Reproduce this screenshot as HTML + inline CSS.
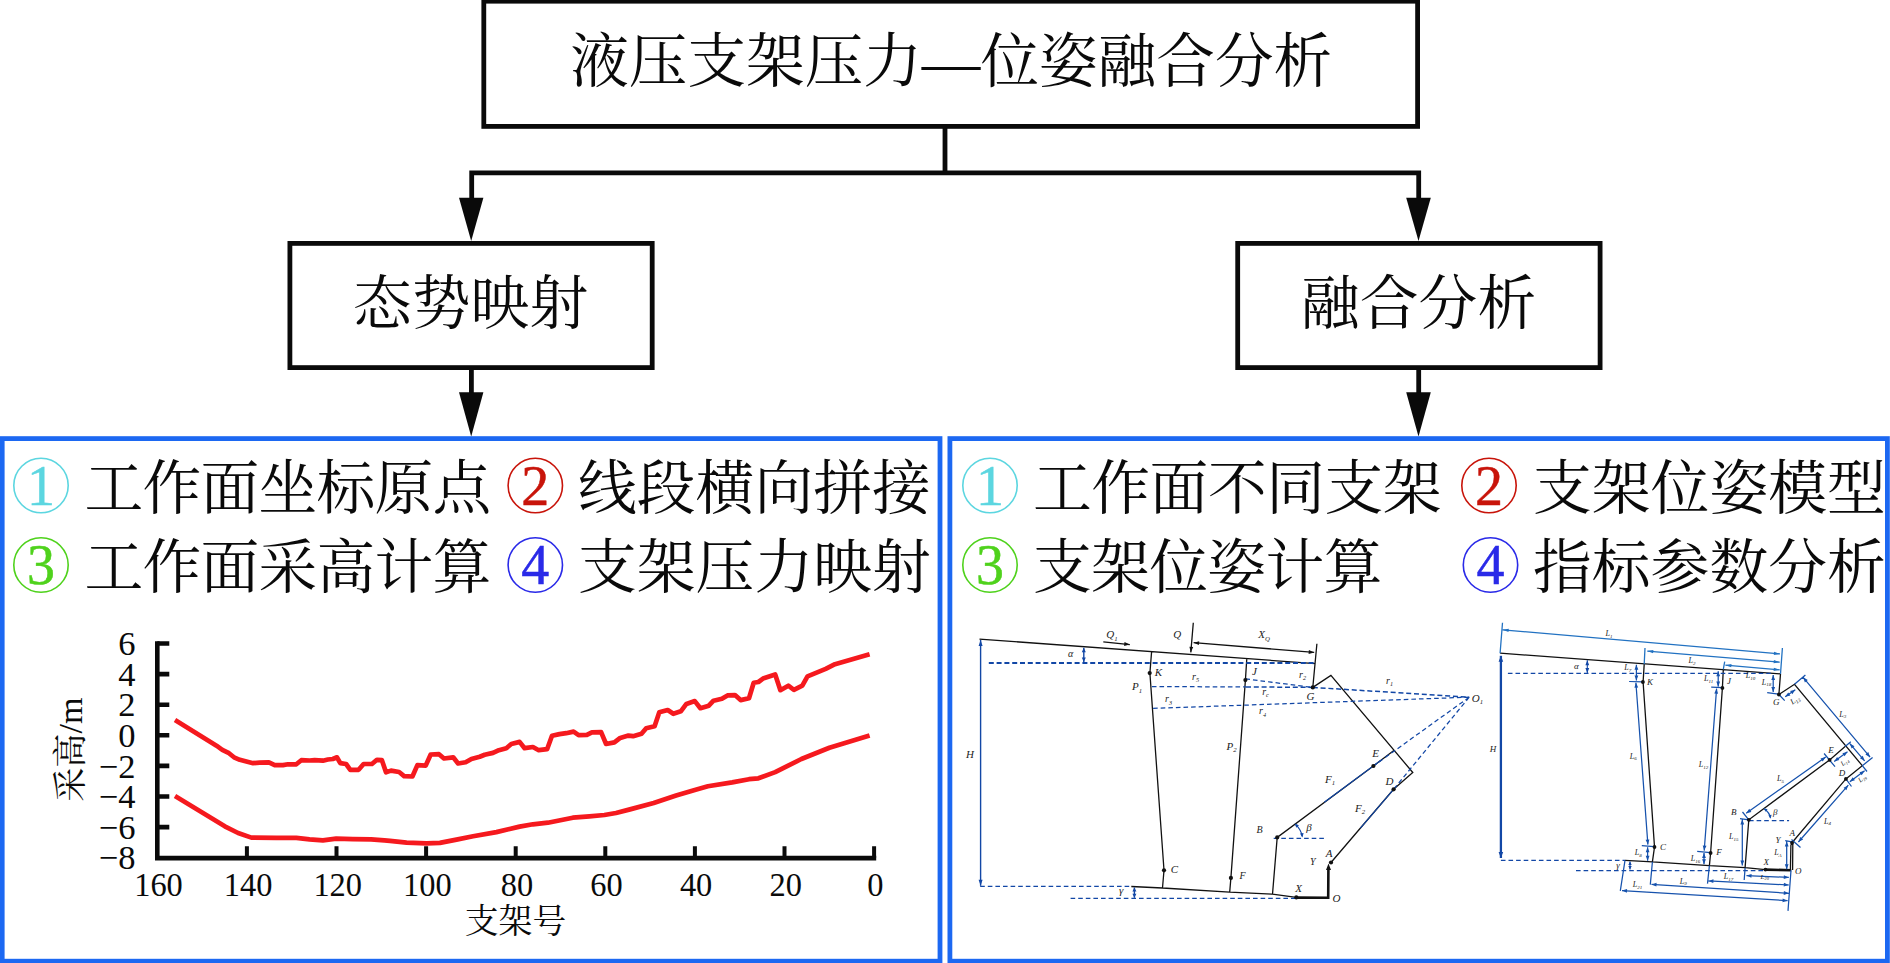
<!DOCTYPE html>
<html lang="zh-CN">
<head>
<meta charset="utf-8">
<title>液压支架压力—位姿融合分析</title>
<style>
html,body{margin:0;padding:0;background:#fff;}
body{width:1890px;height:963px;overflow:hidden;position:relative;font-family:"Liberation Serif","Noto Serif CJK SC",serif;}
svg{position:absolute;left:0;top:0;display:block;}
.cn{font-family:"Liberation Serif","Noto Serif CJK SC",serif;font-size:58.8px;fill:#0a0a0a;font-weight:400;}
.num{font-family:"Liberation Serif",serif;font-size:56px;text-anchor:middle;stroke-width:0.5px;}
.ax{font-family:"Liberation Serif","Noto Serif CJK SC",serif;font-size:34.5px;fill:#0a0a0a;}
</style>
</head>
<body>
<svg width="1890" height="963" viewBox="0 0 1890 963">
<!-- FLOW BOXES -->
<g id="flow" fill="none" stroke="#0a0a0a" stroke-width="4.8">
<rect x="483.8" y="1.2" width="933.8" height="125.2"/>
<rect x="289.9" y="243.4" width="362.3" height="124.2"/>
<rect x="1237.7" y="243.4" width="362.4" height="124.2"/>
<path d="M945 128v44.8M471.7 200V172.8H1418.7V200M471.4 369v26M1418.7 369v26"/>
</g>
<g id="heads" fill="#0a0a0a">
<path d="M459 197.8h24.4L471.2 241z"/>
<path d="M1406.2 197.8h24.6L1418.5 241z"/>
<path d="M459 392.2h24.4L471.2 436.5z"/>
<path d="M1406.2 392.2h24.6L1418.5 436.5z"/>
</g>
<g id="flowtext" class="cn">
<text x="570.2" y="81.5" font-size="58.62">液压支架压力—位姿融合分析</text>
<text x="353" y="324">态势映射</text>
<text x="1301" y="324">融合分析</text>
</g>
<!-- PANELS -->
<g id="panels" fill="none" stroke="#1c68f2" stroke-width="4.8">
<rect x="2.2" y="438.6" width="937.8" height="522.6"/>
<rect x="949.9" y="438.6" width="937.5" height="522.6"/>
</g>
<g id="lefttext">
<g fill="none" stroke-width="1.6">
<circle cx="41" cy="485.5" r="27.2" stroke="#5cd6e0"/>
<circle cx="535.3" cy="485.5" r="27.2" stroke="#c8140a"/>
<circle cx="41" cy="565" r="27.2" stroke="#4fd21c"/>
<circle cx="535.3" cy="565" r="27.2" stroke="#2a2ae8"/>
</g>
<text class="num" x="41" y="504.5" fill="#5cd6e0" stroke="#5cd6e0">1</text>
<text class="num" x="535.3" y="504.5" fill="#c8140a" stroke="#c8140a">2</text>
<text class="num" x="41" y="584" fill="#4fd21c" stroke="#4fd21c">3</text>
<text class="num" x="535.3" y="584" fill="#2a2ae8" stroke="#2a2ae8">4</text>
<text class="cn" x="84.5" y="509" letter-spacing="-0.8">工作面坐标原点</text>
<text class="cn" x="578" y="509">线段横向拼接</text>
<text class="cn" x="84.5" y="588" letter-spacing="-0.8">工作面采高计算</text>
<text class="cn" x="578" y="588">支架压力映射</text>
</g>
<g id="righttext">
<g fill="none" stroke-width="1.6">
<circle cx="990" cy="485.5" r="27.2" stroke="#5cd6e0"/>
<circle cx="1489" cy="485.5" r="27.2" stroke="#c8140a"/>
<circle cx="990" cy="565" r="27.2" stroke="#4fd21c"/>
<circle cx="1490.5" cy="565" r="27.2" stroke="#2a2ae8"/>
</g>
<text class="num" x="990" y="504.5" fill="#5cd6e0" stroke="#5cd6e0">1</text>
<text class="num" x="1489" y="504.5" fill="#c8140a" stroke="#c8140a">2</text>
<text class="num" x="990" y="584" fill="#4fd21c" stroke="#4fd21c">3</text>
<text class="num" x="1490.5" y="584" fill="#2a2ae8" stroke="#2a2ae8">4</text>
<text class="cn" x="1033" y="509" letter-spacing="-0.5">工作面不同支架</text>
<text class="cn" x="1533" y="509">支架位姿模型</text>
<text class="cn" x="1033" y="588" letter-spacing="-0.7">支架位姿计算</text>
<text class="cn" x="1533" y="588">指标参数分析</text>
</g>
<g id="chart">
<g stroke="#0a0a0a" stroke-width="4.6" fill="none">
<path d="M157.3 641.2V858.1H876.2"/>
<path d="M157.3 643.5H169.3M157.3 674.1H169.3M157.3 704.7H169.3M157.3 735.3H169.3M157.3 765.9H169.3M157.3 796.5H169.3M157.3 827.1H169.3"/>
<path stroke-width="4" d="M246.9 858.1V846.2M336.5 858.1V846.2M426.1 858.1V846.2M515.7 858.1V846.2M605.3 858.1V846.2M694.9 858.1V846.2M784.5 858.1V846.2M874.1 858.1V846.2"/>
</g>
<g class="ax" text-anchor="end">
<text x="135.5" y="655.2">6</text>
<text x="135.5" y="685.8">4</text>
<text x="135.5" y="716.4">2</text>
<text x="135.5" y="747.0">0</text>
<text x="135.5" y="777.6">−2</text>
<text x="135.5" y="808.2">−4</text>
<text x="135.5" y="838.8">−6</text>
<text x="135.5" y="869.4">−8</text>
</g>
<g class="ax" text-anchor="middle">
<text transform="translate(158.5 896.2) scale(0.94 1)">160</text>
<text transform="translate(248.1 896.2) scale(0.94 1)">140</text>
<text transform="translate(337.7 896.2) scale(0.94 1)">120</text>
<text transform="translate(427.3 896.2) scale(0.94 1)">100</text>
<text transform="translate(516.9 896.2) scale(0.94 1)">80</text>
<text transform="translate(606.5 896.2) scale(0.94 1)">60</text>
<text transform="translate(696.1 896.2) scale(0.94 1)">40</text>
<text transform="translate(785.7 896.2) scale(0.94 1)">20</text>
<text transform="translate(875.3 896.2) scale(0.94 1)">0</text>
<text x="515.5" y="932.8" font-size="33.8">支架号</text>
<text transform="translate(82 749.6) rotate(-90)" font-size="34.2">采高/m</text>
</g>
<g fill="none" stroke="#f5191e" stroke-width="4.7" stroke-linejoin="round">
<path d="M175.0 719.9 L216.5 745.7 L222.3 749.9 L229.0 753.2 L234.0 757.3 L239.8 759.8 L246.4 761.5 L253.1 763.2 L259.7 762.7 L268.9 762.3 L274.7 765.1 L283.0 765.1 L288.0 764.3 L296.3 764.3 L301.3 760.2 L309.6 760.5 L314.6 760.2 L322.9 760.7 L327.9 759.5 L332.8 759.0 L337.0 757.3 L340.3 763.2 L346.1 764.0 L350.3 769.8 L358.6 769.8 L363.6 764.0 L371.9 764.0 L376.9 759.8 L381.9 760.2 L386.0 772.3 L391.0 770.6 L399.1 772.0 L404.1 776.1 L412.4 776.5 L417.4 765.1 L425.7 765.6 L430.7 754.5 L439.0 754.2 L444.0 758.5 L453.2 757.3 L458.1 763.5 L465.6 762.3 L471.4 759.0 L479.7 756.8 L484.7 754.8 L493.0 752.9 L498.9 750.2 L506.3 748.2 L511.3 744.0 L519.6 741.9 L524.6 748.2 L532.9 747.0 L538.7 750.2 L547.1 749.2 L552.0 735.7 L559.5 734.1 L566.2 733.2 L573.6 731.6 L578.6 735.2 L586.9 734.9 L591.9 732.4 L601.1 732.1 L606.1 744.0 L614.4 742.4 L620.2 737.9 L628.4 735.6 L633.1 736.2 L641.5 733.8 L646.2 728.2 L654.6 726.3 L659.3 712.3 L667.7 710.0 L673.3 713.8 L680.8 711.3 L686.4 703.9 L694.8 701.1 L700.4 708.2 L708.8 705.7 L713.5 700.7 L721.9 698.8 L727.5 695.4 L735.0 695.1 L740.6 700.1 L749.0 698.2 L753.7 682.7 L758.4 682.0 L763.0 678.6 L775.2 674.5 L780.4 690.2 L788.3 685.7 L793.9 689.8 L802.3 685.7 L807.5 676.4 L825.7 668.9 L835.0 664.2 L869.6 654.3"/>
<path d="M175.0 796.1 L224.8 826.3 L238.1 833.0 L251.4 837.6 L276.3 837.9 L296.3 837.9 L309.6 839.3 L322.9 840.4 L336.2 838.6 L352.8 839.1 L371.1 839.3 L384.4 840.4 L390.0 840.9 L406.6 842.6 L426.6 843.3 L439.9 842.9 L456.5 839.6 L473.1 836.3 L496.4 832.1 L519.6 826.6 L532.9 824.3 L547.9 822.7 L572.8 817.7 L589.4 816.3 L604.4 815.0 L616.0 813.0 L630.0 809.4 L653.7 803.0 L676.1 795.5 L694.8 789.9 L707.9 786.3 L732.2 782.4 L749.0 779.2 L758.4 778.3 L775.2 772.1 L801.4 759.0 L829.4 747.8 L869.6 735.6"/>
</g></g>
<!--D1S--><g id="diag1">
<path fill="none" stroke="#111" stroke-width="1.3" d="M979.5 639.1L1315.3 663.6M1151.6 651.6L1149.9 673.1L1164 870.3L1162.5 888M1246.8 658.6L1245.4 680.1L1230.9 877.9L1229.7 892.1M1316.9 643.8L1312.8 687.4L1330.9 675.4L1412.8 772.5L1393.6 789.3L1331 862.5M1272.5 894.2L1277.2 837.4L1373.4 766L1393.5 750.7M1131.3 886.5L1162.5 888L1229.7 892.1L1272.4 894.2L1296.3 897.4M1103.3 641.8L1129.8 644.6M1193.3 622.8L1190.8 652.4M1193.6 642.7L1314.2 652.4"/>
<path fill="none" stroke="#111" stroke-width="2.6" d="M1296.3 897.6L1328.2 897.8L1328.4 869"/>
<path fill="none" stroke="#1247a6" stroke-width="1.4" d="M980.6 885.8L980.6 639.9M1083.8 647.7L1083.8 661.9M1134.4 887.4L1134.4 897.8"/>
<path fill="none" stroke="#1247a6" stroke-width="2" stroke-dasharray="5 2.8" d="M988.8 663L1315 663"/>
<path fill="none" stroke="#1247a6" stroke-width="1.25" stroke-dasharray="4.6 3" d="M980.2 886.3L1131.3 886.5M1070.6 898.3L1296.3 898.3M1151.9 686.6L1246 686.9M1245.4 678.9L1312.8 687.4M1153.1 708.4L1469.2 697.2M1469.2 697.2L1373.4 766M1469.2 697.2L1393.6 789.3M1273.7 838.3L1324.3 838.3"/>
<path fill="none" stroke="#1247a6" stroke-width="1.5" stroke-dasharray="5 2.8" d="M1246 686.9L1312.8 687.4M1312.8 687.4L1469.2 697.2"/>
<path fill="none" stroke="#1247a6" stroke-width="1.1" d="M1324.3 802.3L1381 760.2M1360.4 828.1L1393.6 789.3M1295.2 824.2Q1301 829.5 1302.2 836.3"/>
<path fill="#111" d="M1328.5 863.5L1331 870L1326 870ZM1129.8 644.6L1124.1 645.9L1124.5 642.1ZM1190.8 652.4L1189.4 646.8L1193.2 647.1ZM1314.2 652.4L1308.6 653.9L1308.9 650.1ZM1193.6 642.7L1199.2 641.2L1198.9 645Z"/>
<path fill="#1247a6" d="M980.6 639.9L982.6 645.9L978.6 645.9ZM980.6 885.8L978.6 879.8L982.6 879.8ZM1083.8 661.9L1081.8 657.4L1085.8 657.4ZM1083.8 647.7L1085.8 652.2L1081.8 652.2ZM1134.4 897.8L1132.4 893.8L1136.4 893.8ZM1134.4 887.4L1136.4 891.4L1132.4 891.4ZM1294.6 823.6L1298.9 825.2L1296.4 827.8ZM1302.4 837.4L1300 833.5L1303.6 833Z"/>
<g fill="#111"><circle cx="1149.7" cy="673.1" r="2.1"/><circle cx="1245.4" cy="680.1" r="2.1"/><circle cx="1312.8" cy="687.4" r="2.1"/><circle cx="1164" cy="870.3" r="2.1"/><circle cx="1230.9" cy="877.9" r="2.1"/><circle cx="1277.2" cy="837.4" r="2.1"/><circle cx="1373.4" cy="766" r="2.1"/><circle cx="1393.6" cy="789.3" r="2.1"/><circle cx="1331" cy="862.5" r="2.1"/><circle cx="1296.3" cy="897.4" r="2.1"/></g>
<g font-family="'Liberation Serif',serif" font-style="italic" fill="#222" text-anchor="middle">
<text x="1070.6" y="657.3" font-size="10">α</text>
<text x="1112" y="638.1" font-size="11">Q<tspan font-size="6.8" dy="2.4">1</tspan></text>
<text x="1177.3" y="638.1" font-size="11">Q</text>
<text x="1264" y="638.1" font-size="11">X<tspan font-size="6.8" dy="2.4">Q</tspan></text>
<text x="1158.5" y="676.4" font-size="11">K</text>
<text x="1137" y="690.1" font-size="11">P<tspan font-size="6.8" dy="2.4">1</tspan></text>
<text x="1195.5" y="679.8" font-size="10">r<tspan font-size="6.2" dy="2.2">5</tspan></text>
<text x="1168.5" y="702.3" font-size="10">r<tspan font-size="6.2" dy="2.2">3</tspan></text>
<text x="1254.5" y="675.4" font-size="11">J</text>
<text x="1302.5" y="677.8" font-size="10">r<tspan font-size="6.2" dy="2.2">2</tspan></text>
<text x="1265.5" y="694.8" font-size="10">r<tspan font-size="6.2" dy="2.2">c</tspan></text>
<text x="1310.5" y="699.6" font-size="11">G</text>
<text x="1262.5" y="714.3" font-size="10">r<tspan font-size="6.2" dy="2.2">4</tspan></text>
<text x="1389.5" y="683.8" font-size="10">r<tspan font-size="6.2" dy="2.2">1</tspan></text>
<text x="1477.5" y="701.6" font-size="11">O<tspan font-size="6.8" dy="2.4">1</tspan></text>
<text x="1231.5" y="749.6" font-size="11">P<tspan font-size="6.8" dy="2.4">2</tspan></text>
<text x="970" y="757.6" font-size="11">H</text>
<text x="1375.5" y="757.1" font-size="11">E</text>
<text x="1330" y="782.6" font-size="11">F<tspan font-size="6.8" dy="2.4">1</tspan></text>
<text x="1360" y="811.6" font-size="11">F<tspan font-size="6.8" dy="2.4">2</tspan></text>
<text x="1389.5" y="784.6" font-size="11">D</text>
<text x="1259.5" y="832.6" font-size="10">B</text>
<text x="1309" y="830.6" font-size="11">β</text>
<text x="1312.7" y="864.5" font-size="10">Y</text>
<text x="1329" y="856.8" font-size="11">A</text>
<text x="1174.3" y="873.4" font-size="11">C</text>
<text x="1242.6" y="879.3" font-size="10">F</text>
<text x="1298.5" y="891.6" font-size="11">X</text>
<text x="1336.5" y="901.6" font-size="11">O</text>
<text x="1121.2" y="894.1" font-size="11">γ</text>
</g></g><!--D1E-->
<!--D2S--><g id="diag2">
<path fill="none" stroke="#111" stroke-width="1.3" d="M1500.1 653.2L1780.5 673.9M1644.2 664.1L1643.1 682L1654.5 847L1652.4 861.9M1723.3 669.4L1722.4 687.9L1710.6 853L1709.4 865.6M1780.5 673.9L1778.9 694.5L1794.5 684.3L1862.3 765.7L1845.9 778.9L1792.6 842M1745.1 867.6L1748.8 819.8L1829.6 759.9L1845.1 746.4M1625 860.3L1652.4 861.9L1709.4 865.6L1745.1 867.6L1765.4 869.6M1790.4 870L1790.9 845L1792.8 843.5L1792.6 870"/>
<path fill="none" stroke="#111" stroke-width="2.6" d="M1765.4 869.6L1791.2 870.2"/>
<path fill="none" stroke="#1247a6" stroke-width="2.3" d="M1500.9 858L1500.9 655.8"/>
<path fill="none" stroke="#1247a6" stroke-width="1.25" stroke-dasharray="4.6 3" d="M1507.9 673.4L1773.5 673.4M1500.9 860.3L1625 860.3M1576 870.5L1765.4 870.5M1749 820.5L1789.1 820.5"/>
<path fill="none" stroke="#1247a6" stroke-width="1.1" d="M1587.3 660.2L1587.3 672.9M1630 861.5L1630 869.6"/>
<path fill="none" stroke="#2272c2" stroke-width="1.3" d="M1502.5 622.8L1500.1 653.2M1782.4 648L1780.5 673.9M1502.7 629.8L1779.9 653.9M1645 648L1644.2 664.1M1647.3 651.1L1779.7 662.2M1724.7 661.7L1723.3 669.4M1725.4 665.2L1779.7 669.8"/>
<path fill="none" stroke="#1652ad" stroke-width="1.25" d="M1636.4 664.8L1636.4 680.4M1629.1 681.5L1642.9 681.9M1635.9 682.7L1647.9 844.6M1641.8 845.6L1654 846.6M1647.6 847.2L1647.6 860.8M1718.2 671.2L1718.2 686.4M1711.2 687.1L1722.4 687.6M1716.6 688.6L1704.2 850.6M1697.2 851.4L1710.4 852.6M1704 853L1704 864.3M1773.2 675L1773.2 692.1M1767.2 692.6L1778.5 694.2M1778.9 694.5L1784.7 700.6M1794.5 684.3L1805.4 675M1785.2 696.8L1795.3 689.8M1803.1 677.3L1870.1 757.2M1845.1 746.4L1850.8 741.8M1862.3 765.7L1872.6 757.6M1849.8 743.6L1864.6 760.8M1834.2 761.6L1847.5 751.7M1849.8 781.8L1864.6 770.8M1845.9 778.9L1851.5 786.5M1862.3 765.7L1867 771.5M1742.5 812L1748.8 819.8M1824.1 753.5L1835 766.7M1746.2 813.2L1825.7 757.1M1791.5 839.5L1800.5 847.5M1798.4 842L1848.3 785.2M1740 818.6L1748.8 819.8M1742.3 819.5L1742.3 865.6M1785.2 840.6L1792 841.8M1786.7 841.5L1786.7 869.3M1764.3 808.7Q1769.5 812.5 1770.4 817.7M1745.1 867.7L1744.2 880M1709.4 865.6L1707.5 883.6M1652.4 861.9L1650.3 884.6M1625 860.3L1620.3 890.8M1791 870.3L1788 910.9M1746.5 875.6L1788.8 877.4M1708.4 880.9L1788.8 885M1651.5 884.4L1788.8 893.3M1622 890.6L1787.6 900.7"/>
<path fill="#1247a6" d="M1500.9 655.8L1503.2 661.8L1498.6 661.8ZM1500.9 858L1498.6 852L1503.2 852ZM1587.3 672.9L1585.4 667.9L1589.2 667.9ZM1587.3 660.2L1589.2 665.2L1585.4 665.2ZM1630 869.6L1628.3 866L1631.7 866ZM1630 861.5L1631.7 865.1L1628.3 865.1Z"/>
<path fill="#2272c2" d="M1779.9 653.9L1773.8 655L1774.1 651.8ZM1502.7 629.8L1508.8 628.7L1508.5 631.9ZM1779.7 662.2L1773.6 663.3L1773.9 660.1ZM1647.3 651.1L1653.4 650L1653.1 653.2ZM1779.7 669.8L1773.6 670.9L1773.9 667.7ZM1725.4 665.2L1731.5 664.1L1731.2 667.3Z"/>
<path fill="#1652ad" d="M1636.4 680.4L1634.5 675.4L1638.3 675.4ZM1636.4 664.8L1638.3 669.8L1634.5 669.8ZM1647.9 844.6L1645.6 839.8L1649.4 839.5ZM1635.9 682.7L1638.2 687.5L1634.4 687.8ZM1647.6 860.8L1645.7 855.8L1649.5 855.8ZM1647.6 847.2L1649.5 852.2L1645.7 852.2ZM1718.2 686.4L1716.3 681.4L1720.1 681.4ZM1718.2 671.2L1720.1 676.2L1716.3 676.2ZM1704.2 850.6L1702.7 845.5L1706.5 845.8ZM1716.6 688.6L1718.1 693.7L1714.3 693.4ZM1704 864.3L1702.1 859.3L1705.9 859.3ZM1704 853L1705.9 858L1702.1 858ZM1773.2 692.1L1771.3 687.1L1775.1 687.1ZM1773.2 675L1775.1 680L1771.3 680ZM1795.3 689.8L1792.3 694.2L1790.1 691.1ZM1785.2 696.8L1788.2 692.4L1790.4 695.5ZM1870.1 757.2L1865.4 754.6L1868.3 752.1ZM1803.1 677.3L1807.8 679.9L1804.9 682.4ZM1864.6 760.8L1859.9 758.2L1862.8 755.8ZM1849.8 743.6L1854.5 746.2L1851.6 748.6ZM1847.5 751.7L1844.6 756.2L1842.4 753.2ZM1834.2 761.6L1837.1 757.1L1839.3 760.1ZM1864.6 770.8L1861.7 775.3L1859.5 772.3ZM1849.8 781.8L1852.7 777.3L1854.9 780.3ZM1825.7 757.1L1822.7 761.5L1820.5 758.4ZM1746.2 813.2L1749.2 808.8L1751.4 811.9ZM1848.3 785.2L1846.4 790.2L1843.6 787.7ZM1798.4 842L1800.3 837L1803.1 839.5ZM1742.3 865.6L1740.4 860.6L1744.2 860.6ZM1742.3 819.5L1744.2 824.5L1740.4 824.5ZM1786.7 869.3L1784.8 864.3L1788.6 864.3ZM1786.7 841.5L1788.6 846.5L1784.8 846.5ZM1763.6 808.2L1767.6 809.3L1765.6 811.8ZM1770.6 818.8L1768.4 815.3L1771.6 814.8ZM1788.8 877.4L1783.7 879.1L1783.9 875.3ZM1746.5 875.6L1751.6 873.9L1751.4 877.7ZM1788.8 885L1783.7 886.6L1783.9 882.8ZM1708.4 880.9L1713.5 879.3L1713.3 883.1ZM1788.8 893.3L1783.7 894.9L1783.9 891.1ZM1651.5 884.4L1656.6 882.8L1656.4 886.6ZM1787.6 900.7L1782.5 902.3L1782.7 898.5ZM1622 890.6L1627.1 889L1626.9 892.8Z"/>
<g fill="#111"><circle cx="1642.9" cy="682" r="1.9"/><circle cx="1722.4" cy="687.9" r="1.9"/><circle cx="1778.9" cy="694.5" r="1.9"/><circle cx="1654.5" cy="847" r="1.9"/><circle cx="1710.6" cy="853" r="1.9"/><circle cx="1748.8" cy="819.8" r="1.9"/><circle cx="1829.6" cy="759.9" r="1.9"/><circle cx="1845.9" cy="778.9" r="1.9"/><circle cx="1792" cy="842.8" r="1.9"/><circle cx="1765.4" cy="869.6" r="1.9"/></g>
<g font-family="'Liberation Serif',serif" font-style="italic" fill="#222" text-anchor="middle">
<text x="1493" y="752.2" font-size="9">H</text>
<text x="1576.4" y="668.8" font-size="9">α</text>
<text x="1609" y="636.1" font-size="8">L<tspan font-size="5.0" dy="1.8">1</tspan></text>
<text x="1692" y="663.1" font-size="8">L<tspan font-size="5.0" dy="1.8">2</tspan></text>
<text x="1627.8" y="670" font-size="8">L<tspan font-size="5.0" dy="1.8">7</tspan></text>
<text x="1650" y="684.7" font-size="9">K</text>
<text x="1633.3" y="758.6" font-size="8">L<tspan font-size="5.0" dy="1.8">6</tspan></text>
<text x="1729" y="684.2" font-size="9">J</text>
<text x="1708.6" y="680.9" font-size="8">L<tspan font-size="5.0" dy="1.8">11</tspan></text>
<text x="1750.5" y="678.4" font-size="8">L<tspan font-size="5.0" dy="1.8">10</tspan></text>
<text x="1766.5" y="684.6" font-size="8">L<tspan font-size="5.0" dy="1.8">18</tspan></text>
<text x="1776.3" y="704.5" font-size="9">G</text>
<text x="1794.8" y="702.5" font-size="8" transform="rotate(-35 1794.8 699.9)">L<tspan font-size="5.0" dy="1.8">13</tspan></text>
<text x="1842.8" y="716.5" font-size="8">L<tspan font-size="5.0" dy="1.8">3</tspan></text>
<text x="1831.1" y="752.8" font-size="9">E</text>
<text x="1844.6" y="764.1" font-size="7" transform="rotate(-38 1844.6 761.8)">L<tspan font-size="4.3" dy="1.5">14</tspan></text>
<text x="1842" y="775.7" font-size="9">D</text>
<text x="1862" y="780.8" font-size="7" transform="rotate(-38 1862 778.5)">L<tspan font-size="4.3" dy="1.5">19</tspan></text>
<text x="1703.4" y="766.7" font-size="8">L<tspan font-size="5.0" dy="1.8">12</tspan></text>
<text x="1780.5" y="780.8" font-size="8">L<tspan font-size="5.0" dy="1.8">5</tspan></text>
<text x="1827.4" y="823.6" font-size="8">L<tspan font-size="5.0" dy="1.8">4</tspan></text>
<text x="1733.7" y="815.4" font-size="9">B</text>
<text x="1775.2" y="814.7" font-size="9">β</text>
<text x="1733.7" y="838.9" font-size="8">L<tspan font-size="5.0" dy="1.8">15</tspan></text>
<text x="1792.2" y="836" font-size="9">A</text>
<text x="1778.1" y="842.7" font-size="9">Y</text>
<text x="1777.9" y="854.8" font-size="8">L<tspan font-size="5.0" dy="1.8">A</tspan></text>
<text x="1766.2" y="865.3" font-size="9">X</text>
<text x="1798.3" y="873.5" font-size="9">O</text>
<text x="1663" y="849.5" font-size="9">C</text>
<text x="1638.3" y="855.3" font-size="8">L<tspan font-size="5.0" dy="1.8">8</tspan></text>
<text x="1719" y="854.8" font-size="9">F</text>
<text x="1695.6" y="861.2" font-size="8">L<tspan font-size="5.0" dy="1.8">16</tspan></text>
<text x="1618" y="868.4" font-size="9">γ</text>
<text x="1764.7" y="878.9" font-size="7">L<tspan font-size="4.3" dy="1.5">20</tspan></text>
<text x="1728.6" y="879" font-size="8">L<tspan font-size="5.0" dy="1.8">17</tspan></text>
<text x="1683.3" y="883.5" font-size="8">L<tspan font-size="5.0" dy="1.8">9</tspan></text>
<text x="1637.4" y="887.2" font-size="8">L<tspan font-size="5.0" dy="1.8">21</tspan></text>
</g></g><!--D2E-->
</svg>
</body>
</html>
